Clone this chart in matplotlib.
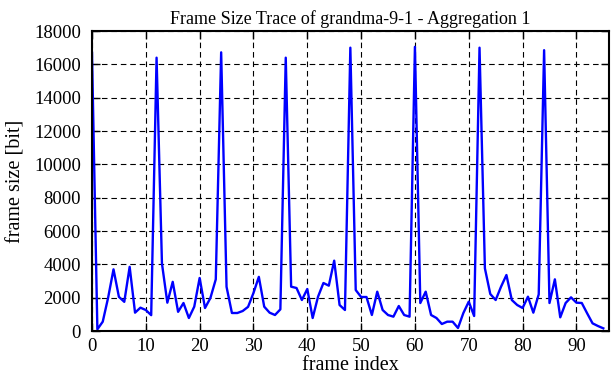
import matplotlib
matplotlib.use("Agg")
import matplotlib.pyplot as plt

frame_size = [16700, 100, 560, 2000, 3700, 2050, 1750, 3850, 1100, 1400,
              1260, 950, 16400, 4050, 1700, 2950, 1150, 1680, 780, 1460,
              3180, 1380, 1980, 3100, 16720, 2650, 1080, 1080, 1200, 1450,
              2280, 3250, 1460, 1100, 960, 1300, 16400, 2660, 2580, 1860,
              2520, 780, 2060, 2880, 2720, 4220, 1560, 1260, 17000, 2460,
              2040, 2040, 960, 2360, 1260, 960, 860, 1500, 960, 860,
              17050, 1680, 2360, 960, 780, 420, 560, 560, 180, 1080,
              1760, 900, 17000, 3760, 2220, 1860, 2660, 3360, 1860, 1560,
              1380, 2060, 1100, 2200, 16850, 1680, 3100, 820, 1680, 2020,
              1700, 1680, 1060, 460, 300, 160]
frame_index = list(range(len(frame_size)))
x_ticks = [0, 10, 20, 30, 40, 50, 60, 70, 80, 90]
y_ticks = [0, 2000, 4000, 6000, 8000, 10000, 12000, 14000, 16000, 18000]

plt.rcParams['font.family'] = ['Liberation Serif', 'DejaVu Serif']
fig = plt.figure(figsize=(6.12, 3.82), dpi=100)
ax = fig.add_axes([0.1503, 0.1335, 0.9946 - 0.1503, 0.9188 - 0.1335])
ax.plot(frame_index, frame_size, color='#0000ff', lw=1.7)
ax.set_xlim(0, 96)
ax.set_ylim(0, 18000)
ax.set_xticks(x_ticks)
ax.set_yticks(y_ticks)
ax.grid(True, color='black', linestyle=(0, (5, 3.5)), lw=0.8)
ax.tick_params(direction='in', length=6, width=1, top=True, right=True,
               labelsize=13.5, pad=5)
ax.tick_params(axis='y', pad=8)
for s in ax.spines.values():
    s.set_linewidth(1.5)
ax.set_title('Frame Size Trace of grandma-9-1 - Aggregation 1', fontsize=13, pad=5)
ax.set_xlabel('frame index', fontsize=14.5, labelpad=1)
ax.set_ylabel('frame size [bit]', fontsize=14.5, labelpad=6)
fig.savefig('out.png', dpi=100)
